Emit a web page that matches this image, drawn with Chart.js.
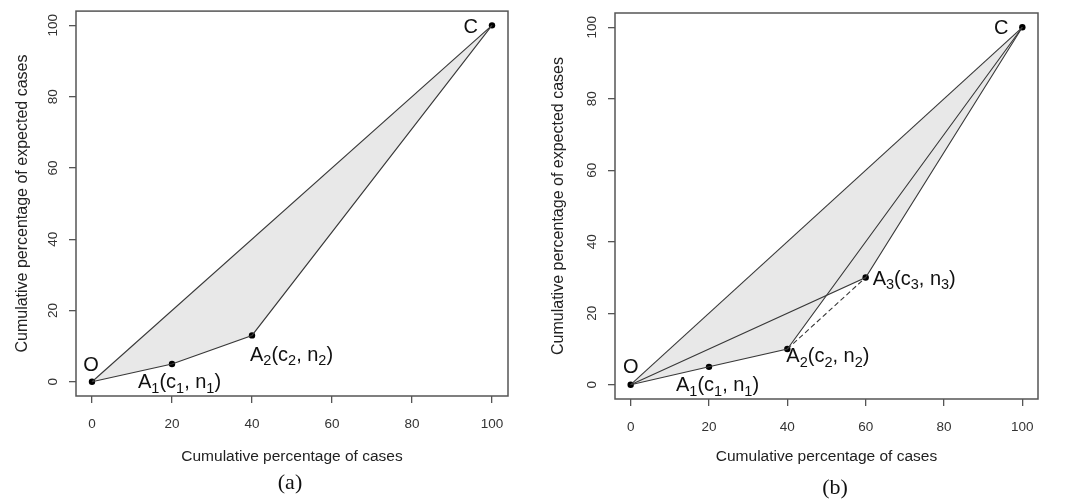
<!DOCTYPE html>
<html>
<head>
<meta charset="utf-8">
<script src="https://cdn.jsdelivr.net/npm/chart.js@4.4.1/dist/chart.umd.min.js"></script>
<style>
  html, body { margin: 0; padding: 0; background: #fff; }
  #wrap { position: relative; width: 1072px; height: 500px; overflow: hidden; }
  canvas { position: absolute; top: 0; }
</style>
</head>
<body>
<div id="wrap">
  <canvas id="panelA" width="536" height="500" style="left:0"></canvas>
  <canvas id="panelB" width="536" height="500" style="left:536px"></canvas>
</div>
<script>
var xTicks = [0, 20, 40, 60, 80, 100];
var yTicks = [0, 20, 40, 60, 80, 100];

// diagonal O -> C
var diagX = [0, 100];
var diagY = [0, 100];

// panel (a): O, A1, A2, C
var aX = [0, 20, 40, 100];
var aY = [0, 5, 13, 100];
var aNames = ['O', 'A1', 'A2', 'C'];

// panel (b): O, A1, A2, A3, C
var bX = [0, 20, 40, 60, 100];
var bY = [0, 5, 10, 30, 100];
var bNames = ['O', 'A1', 'A2', 'A3', 'C'];
var bLower = [0, 1, 2, 4];   // O-A1-A2-C
var bUpper = [0, 3, 4];      // O-A3-C
var bDash = [2, 3];          // A2-A3

var FONT = '"Liberation Sans", Arial, sans-serif';
var LINE = '#383838';
var AXIS = '#555';
var FILL = '#e8e8e8';

function pts(xs, ys, idx) {
  if (!idx) idx = xs.map(function(v, i) { return i; });
  return idx.map(function(i) { return {x: xs[i], y: ys[i]}; });
}

function lineSet(data, extra) {
  var ds = {
    data: data,
    borderColor: LINE,
    borderWidth: 1.1,
    pointRadius: 0,
    tension: 0,
    fill: false
  };
  for (var k in extra) ds[k] = extra[k];
  return ds;
}

function pointSet(data) {
  return {
    data: data,
    showLine: false,
    pointRadius: 3.2,
    pointBackgroundColor: '#000',
    pointBorderColor: '#000',
    pointBorderWidth: 0
  };
}

function labelParts(name) {
  if (name.length === 1) return [[name, 0]];
  var k = name.slice(1);
  return [['A', 0], [k, 1], ['(c', 0], [k, 1], [', n', 0], [k, 1], [')', 0]];
}

function drawLabel(ctx, x, y, parts, align) {
  var main = '20px ' + FONT, sub = '14.5px ' + FONT;
  var w = 0;
  parts.forEach(function(p) { ctx.font = p[1] ? sub : main; w += ctx.measureText(p[0]).width; });
  var cx = align === 'center' ? x - w / 2 : (align === 'right' ? x - w : x);
  ctx.textAlign = 'left';
  ctx.textBaseline = 'middle';
  parts.forEach(function(p) {
    ctx.font = p[1] ? sub : main;
    ctx.fillText(p[0], cx, p[1] ? y + 6 : y);
    cx += ctx.measureText(p[0]).width;
  });
}

var rDecor = {
  id: 'rDecor',
  afterDraw: function(chart, args, opts) {
    var ctx = chart.ctx, a = chart.chartArea;
    var xs = chart.scales.x, ys = chart.scales.y;
    ctx.save();
    ctx.strokeStyle = AXIS;
    ctx.lineWidth = 1.5;
    ctx.strokeRect(a.left, a.top, a.right - a.left, a.bottom - a.top);

    // R style vertical tick labels on the y axis
    ctx.fillStyle = '#333';
    ctx.font = '13.5px ' + FONT;
    ctx.textAlign = 'center';
    ctx.textBaseline = 'middle';
    yTicks.forEach(function(v) {
      ctx.save();
      ctx.translate(a.left - 23, ys.getPixelForValue(v));
      ctx.rotate(-Math.PI / 2);
      ctx.fillText(String(v), 0, 0);
      ctx.restore();
    });

    ctx.fillStyle = '#111';
    opts.labels.forEach(function(l) {
      drawLabel(ctx, xs.getPixelForValue(l.x) + l.dx, ys.getPixelForValue(l.y) + l.dy, labelParts(l.name), l.align);
    });

    ctx.font = '22px "Liberation Serif", "Times New Roman", serif';
    ctx.textAlign = 'center';
    ctx.textBaseline = 'middle';
    ctx.fillText(opts.letter, (a.left + a.right) / 2 + opts.letterDx, opts.letterY);
    ctx.restore();
  }
};

function makePanel(id, area, datasets, labels, letter, letterDx, letterY) {
  var canvas = document.getElementById(id);
  var tickFont = {family: FONT, size: 13.5};
  var grid = {drawOnChartArea: false, drawTicks: true, tickLength: 7, color: AXIS, lineWidth: 1.3};
  return new Chart(canvas, {
    type: 'line',
    data: {datasets: datasets},
    options: {
      responsive: false,
      animation: false,
      layout: {padding: {left: 0, top: area.top, right: canvas.width - area.right, bottom: 0}},
      scales: {
        x: {
          type: 'linear', min: -4, max: 104,
          afterFit: function(s) { s.height = canvas.height - area.bottom; },
          ticks: {stepSize: 20, includeBounds: false, color: '#333', font: tickFont, padding: 13, maxRotation: 0},
          grid: grid,
          border: {display: false},
          title: {display: true, text: 'Cumulative percentage of cases', color: '#222',
                  font: {family: FONT, size: 15.5}, padding: {top: 0, bottom: 34}}
        },
        y: {
          type: 'linear', min: -4, max: 104,
          afterFit: function(s) { s.width = area.left; },
          ticks: {stepSize: 20, includeBounds: false, color: 'rgba(0,0,0,0)', font: tickFont},
          grid: grid,
          border: {display: false},
          title: {display: true, text: 'Cumulative percentage of expected cases', color: '#222',
                  font: {family: FONT, size: 16}, padding: {top: 13, bottom: 0}}
        }
      },
      plugins: {
        legend: {display: false},
        tooltip: {enabled: false},
        filler: {propagate: false, drawTime: 'beforeDatasetsDraw'},
        rDecor: {labels: labels, letter: letter, letterDx: letterDx, letterY: letterY}
      }
    },
    plugins: [rDecor]
  });
}

function labelList(xs, ys, names, offs) {
  return names.map(function(n, i) {
    var o = offs[n];
    return {name: n, x: xs[i], y: ys[i], dx: o[0], dy: o[1], align: o[2]};
  });
}

// panel (a)
makePanel('panelA', {left: 76, top: 11, right: 508, bottom: 396}, [
  lineSet(pts(diagX, diagY)),
  lineSet(pts(aX, aY), {fill: 0, backgroundColor: FILL}),
  pointSet(pts(aX, aY))
], labelList(aX, aY, aNames, {
  O: [-1, -16, 'center'],
  A1: [-34, 19, 'left'],
  A2: [-2, 20, 'left'],
  C: [-14, 2, 'right']
}), '(a)', -2, 483);

// panel (b)
makePanel('panelB', {left: 79, top: 13, right: 502, bottom: 399}, [
  lineSet(pts(diagX, diagY)),
  lineSet(pts(bX, bY, bUpper), {fill: 0, backgroundColor: FILL}),
  lineSet(pts(bX, bY, bLower), {fill: 0, backgroundColor: FILL}),
  lineSet(pts(bX, bY, bDash), {borderDash: [5, 3]}),
  pointSet(pts(bX, bY))
], labelList(bX, bY, bNames, {
  O: [0, -17, 'center'],
  A1: [-33, 19, 'left'],
  A2: [-1, 8, 'left'],
  A3: [7, 2, 'left'],
  C: [-14, 1, 'right']
}), '(b)', 8.5, 488);
</script>
</body>
</html>
